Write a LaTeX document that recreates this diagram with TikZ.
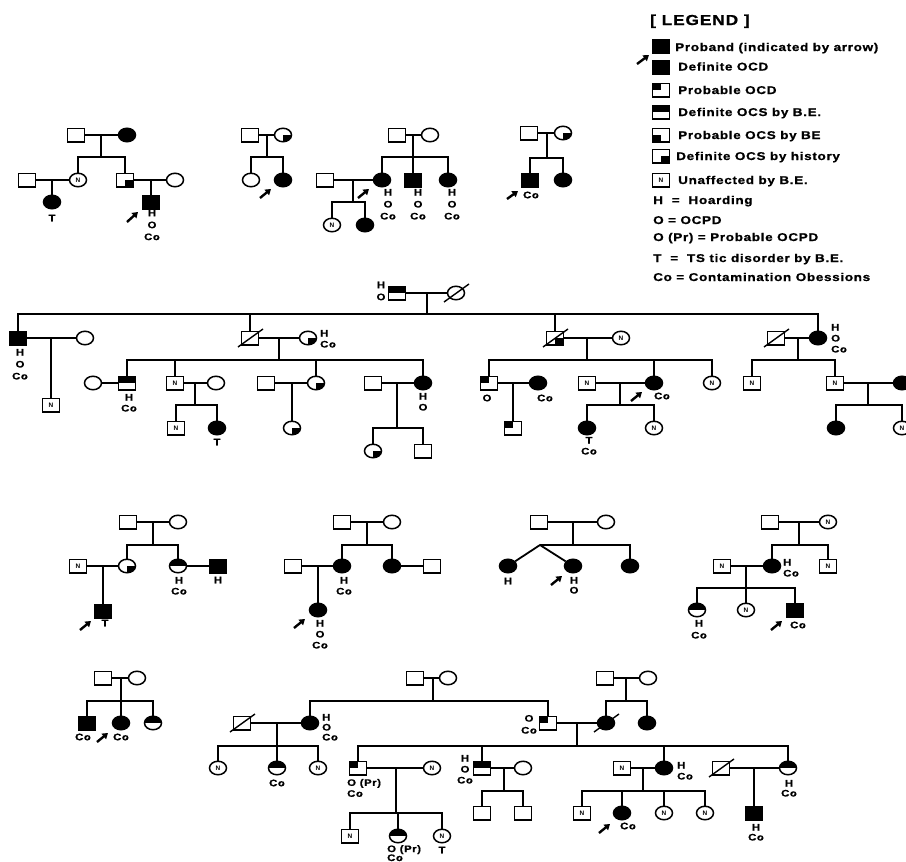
\documentclass[tikz,border=0pt]{standalone}
\usepackage{fontspec}
\usetikzlibrary{shapes.geometric,arrows.meta}
\newfontfamily\lf[FakeStretch=1.2,LetterSpace=6,BoldFeatures={FakeBold=0.8}]{Liberation Sans}
\newfontfamily\nf{Liberation Sans}
\newcommand\deceased[1]{\draw[deadl] ([shift={(-12,9)}]#1.center) -- ([shift={(13,-9)}]#1.center);}
\begin{document}
\begin{tikzpicture}[x=1bp,y=-1bp,
  sym/.style={draw=black, line width=1.5bp, inner sep=0pt, minimum width=17bp, minimum height=13.5bp, font=\nf\bfseries\fontsize{6.5}{6.5}\selectfont},
  sq/.style={sym, rectangle},
  ci/.style={sym, ellipse},
  aff/.style={fill=black},
  tophalf/.style={path picture={\fill[black] (path picture bounding box.west) rectangle (path picture bounding box.north east);}},
  lrq/.style={path picture={\fill[black] (path picture bounding box.center) rectangle (path picture bounding box.south east);}},
  ulq/.style={path picture={\fill[black] (path picture bounding box.center) rectangle (path picture bounding box.north west);}},
  llq/.style={path picture={\fill[black] (path picture bounding box.center) rectangle (path picture bounding box.south west);}},
  ln/.style={line width=1.8bp},
  sibl/.style={line width=1.3bp},
  deadl/.style={line width=1.4bp},
  lab/.style={font=\lf\bfseries\fontsize{9.5}{11}\selectfont, inner sep=0pt, align=center},
  labw/.style={font=\lf\bfseries\fontsize{9.5}{12}\selectfont, inner sep=0pt, align=center},
  labn/.style={font=\lf\bfseries\fontsize{9.5}{10}\selectfont, inner sep=0pt, align=center},
  leg/.style={font=\lf\bfseries\fontsize{11.3}{11.3}\selectfont, inner sep=0pt, anchor=base west},
  pa/.style={line width=2.4bp, -{Triangle[length=5.5bp,width=7bp]}}
]
\useasboundingbox (0,0) rectangle (906,862);
\fill[white] (0,0) rectangle (906,862);

%% ---------------- Family T1 ----------------
\node[sq] (t1f) at (76,135) {};
\node[ci,aff] (t1m) at (127,135) {};
\draw[ln] (t1f) -- (t1m);
\coordinate (t1d) at (101,135); \coordinate (t1s) at (101,157);
\draw[ln] (t1d) -- (t1s);
\node[ci] (t1a) at (78,180) {N};
\node[sq,lrq] (t1b) at (125,180) {};
\draw[ln] (t1a) |- (t1s) -| (t1b);
\node[sq] (t1as) at (27,180) {};
\draw[ln] (t1as) -- (t1a);
\node[ci,aff] (t1ac) at (52,202) {};
\draw[ln] (t1ac |- t1a) -- (t1ac);
\node[lab] (t1acl) at (52,218) {T};
\node[ci] (t1bs) at (175,180) {};
\draw[ln] (t1b) -- (t1bs);
\node[sq,aff] (t1bc) at (151,202) {};
\draw[ln] (t1bc |- t1b) -- (t1bc);
\node[labw,anchor=north] (t1bcl) at (152,209.5) {H\\O\\Co};
\coordinate (t1ar) at (127,222); \coordinate (t1ah) at (138,212);
\draw[pa] (t1ar) -- (t1ah);

%% ---------------- Family T2 ----------------
\node[sq] (t2f) at (250,135) {};
\node[ci,lrq] (t2m) at (283,135) {};
\draw[ln] (t2f) -- (t2m);
\coordinate (t2d) at (267,135); \coordinate (t2s) at (267,157);
\draw[ln] (t2d) -- (t2s);
\node[ci] (t2a) at (251,180) {};
\node[ci,aff] (t2b) at (283,180) {};
\draw[ln] (t2a) |- (t2s) -| (t2b);
\coordinate (t2ar) at (260,198); \coordinate (t2ah) at (271,189);
\draw[pa] (t2ar) -- (t2ah);

%% ---------------- Family T3 ----------------
\node[sq] (t3f) at (397,135) {};
\node[ci] (t3m) at (430,135) {};
\draw[ln] (t3f) -- (t3m);
\coordinate (t3d) at (413,135); \coordinate (t3s) at (413,157);
\node[ci,aff] (t3a) at (382,180) {};
\node[sq,aff] (t3b) at (413,180) {};
\node[ci,aff] (t3c) at (448,180) {};
\draw[ln] (t3d) -- (t3b);
\draw[ln] (t3a) |- (t3s) -| (t3c);
\node[labw,anchor=north] (t3al) at (388,188.8) {H\\O\\Co};
\node[labw,anchor=north] (t3bl) at (418,188.8) {H\\O\\Co};
\node[labw,anchor=north] (t3cl) at (452,188.8) {H\\O\\Co};
\node[sq] (t3as) at (325,180) {};
\draw[ln] (t3as) -- (t3a);
\coordinate (t3ad) at (353,180); \coordinate (t3ss) at (353,202);
\draw[ln] (t3ad) -- (t3ss);
\node[ci] (t3a1) at (332,225) {N};
\node[ci,aff] (t3a2) at (365,225) {};
\draw[ln] (t3a1) |- (t3ss) -| (t3a2);
\coordinate (t3ar) at (358,198); \coordinate (t3ah) at (369,189);
\draw[pa] (t3ar) -- (t3ah);

%% ---------------- Family T4 ----------------
\node[sq] (t4f) at (529,133) {};
\node[ci,lrq] (t4m) at (563,133) {};
\draw[ln] (t4f) -- (t4m);
\coordinate (t4d) at (547,133); \coordinate (t4s) at (547,158);
\draw[ln] (t4d) -- (t4s);
\node[sq,aff] (t4a) at (530,180) {};
\node[ci,aff] (t4b) at (563,180) {};
\draw[ln] (t4a) |- (t4s) -| (t4b);
\coordinate (t4ar) at (507,199); \coordinate (t4ah) at (518,191);
\draw[pa] (t4ar) -- (t4ah);
\node[lab] (t4al) at (531,195) {Co};

%% ---------------- Legend ----------------
\node[font=\lf\bfseries\fontsize{14.5}{14.5}\selectfont, inner sep=0pt, anchor=base west] (lgt) at (650,25) {[ LEGEND ]};
\node[sq,aff] (g1) at (661,46) {};
\node[leg] (g1t) at (675,51) {Proband (indicated by arrow)};
\node[sq,aff] (g2) at (661,67) {};
\coordinate (g2ar) at (637,64); \coordinate (g2ah) at (649,55);
\draw[pa] (g2ar) -- (g2ah);
\node[leg] (g2t) at (678,70.5) {Definite OCD};
\node[sq,ulq] (g3) at (661,90) {};
\node[leg] (g3t) at (678,94) {Probable OCD};
\node[sq,tophalf] (g4) at (661,112) {};
\node[leg] (g4t) at (678,116) {Definite OCS by B.E.};
\node[sq,llq] (g5) at (661,135) {};
\node[leg] (g5t) at (678,139) {Probable OCS by BE};
\node[sq,lrq] (g6) at (661,156) {};
\node[leg] (g6t) at (676,160) {Definite OCS by history};
\node[sq] (g7) at (661,180) {N};
\node[leg] (g7t) at (678,184) {Unaffected by B.E.};
\node[leg] (g8t) at (653,204) {H~~=~~Hoarding};
\node[leg] (g9t) at (653,224) {O = OCPD};
\node[leg] (g10t) at (653,241) {O (Pr) = Probable OCPD};
\node[leg] (g11t) at (653,262) {T~~=~~TS tic disorder by B.E.};
\node[leg] (g12t) at (653,281) {Co = Contamination Obessions};

%% ---------------- Big family ----------------
\node[sq,tophalf] (bf) at (397,293) {};
\node[labw] (bfl) at (381,291) {H\\O};
\node[ci] (bm) at (456,293) {};
\deceased{bm}
\draw[ln] (bf) -- (bm);
\coordinate (bd) at (427,293); \coordinate (bs) at (427,314);
\draw[ln] (bd) -- (bs);
\node[sq,aff] (b1) at (18,338) {};
\node[sq] (b2) at (250,338) {};
\node[sq,lrq] (b3) at (555,338) {};
\node[ci,aff] (b4) at (818,338) {};
\deceased{b2}
\deceased{b3}
\draw[sibl] (b1) |- (bs) -| (b4);
\draw[ln] (b2) -- (b2 |- bs);
\draw[ln] (b3) -- (b3 |- bs);
% b1
\node[labw,anchor=north] (b1l) at (20,348.8) {H\\O\\Co};
\node[ci] (b1s) at (85,338) {};
\draw[ln] (b1) -- (b1s);
\node[sq] (b1c) at (51,405) {N};
\draw[ln] (b1c |- b1) -- (b1c);
% b2
\node[ci,lrq] (b2s) at (308,338) {};
\draw[ln] (b2) -- (b2s);
\node[lab,anchor=north west,align=left] (b2l) at (320,329.8) {H\\Co};
\coordinate (b2d) at (279,338); \coordinate (b2b) at (279,360);
\draw[ln] (b2d) -- (b2b);
\node[sq,tophalf] (c1) at (127,383) {};
\node[sq] (c2) at (175,383) {N};
\node[ci,lrq] (c3) at (316,383) {};
\node[ci,aff] (c4) at (423,383) {};
\draw[sibl] (c1) |- (b2b) -| (c4);
\draw[ln] (c2) -- (c2 |- b2b);
\draw[ln] (c3) -- (c3 |- b2b);
\node[ci] (c1s) at (93,383) {};
\draw[ln] (c1s) -- (c1);
\node[lab,anchor=north] (c1l) at (129,393.8) {H\\Co};
\node[ci] (c2s) at (216,383) {};
\draw[ln] (c2) -- (c2s);
\coordinate (c2d) at (195,383); \coordinate (c2b) at (195,405);
\draw[ln] (c2d) -- (c2b);
\node[sq] (c2a) at (176,428) {N};
\node[ci,aff] (c2c) at (217,428) {};
\draw[ln] (c2a) |- (c2b) -| (c2c);
\node[lab] (c2cl) at (217,442) {T};
\node[sq] (c3s) at (266,383) {};
\draw[ln] (c3s) -- (c3);
\node[ci,lrq] (c3a) at (292,428) {};
\draw[ln] (c3a |- c3) -- (c3a);
\node[sq] (c4s) at (373,383) {};
\draw[ln] (c4s) -- (c4);
\node[lab,anchor=north] (c4l) at (423,392.8) {H\\O};
\coordinate (c4d) at (397,383); \coordinate (c4b) at (397,428);
\draw[ln] (c4d) -- (c4b);
\node[ci,lrq] (c4a) at (373,451) {};
\node[sq] (c4c) at (423,451) {};
\draw[ln] (c4a) |- (c4b) -| (c4c);
% b3
\node[ci] (b3s) at (621,338) {N};
\draw[ln] (b3) -- (b3s);
\coordinate (b3d) at (587,338); \coordinate (b3b) at (587,360);
\draw[ln] (b3d) -- (b3b);
\node[sq,ulq] (d1) at (489,383) {};
\node[ci,aff] (d2) at (654,383) {};
\node[ci] (d3) at (712,383) {N};
\draw[sibl] (d1) |- (b3b) -| (d3);
\draw[ln] (d2) -- (d2 |- b3b);
\node[lab] (d1l) at (487,398) {O};
\node[ci,aff] (d1s) at (538,383) {};
\draw[ln] (d1) -- (d1s);
\node[lab] (d1sl) at (545,398) {Co};
\node[sq,ulq] (d1a) at (513,428) {};
\draw[ln] (d1a |- d1) -- (d1a);
\node[sq] (d2s) at (587,383) {N};
\draw[ln] (d2s) -- (d2);
\coordinate (d2ar) at (631,401); \coordinate (d2ah) at (642,392);
\draw[pa] (d2ar) -- (d2ah);
\node[lab] (d2l) at (662,396) {Co};
\coordinate (d2d) at (620,383); \coordinate (d2b) at (620,405);
\draw[ln] (d2d) -- (d2b);
\node[ci,aff] (d2a) at (587,428) {};
\node[ci] (d2c) at (654,428) {N};
\draw[ln] (d2a) |- (d2b) -| (d2c);
\node[lab,anchor=north] (d2al) at (589,436.8) {T\\Co};
% b4
\node[sq] (b4s) at (776,338) {};
\deceased{b4s}
\draw[ln] (b4s) -- (b4);
\node[lab,anchor=north west,align=left] (b4l) at (831,323.8) {H\\O\\Co};
\coordinate (b4d) at (798,338); \coordinate (b4b) at (798,360);
\draw[ln] (b4d) -- (b4b);
\node[sq] (e1) at (752,383) {N};
\node[sq] (e2) at (835,383) {N};
\draw[sibl] (e1) |- (b4b) -| (e2);
\node[ci,aff] (e2s) at (902,383) {};
\draw[ln] (e2) -- (e2s);
\coordinate (e2d) at (868,383); \coordinate (e2b) at (868,405);
\draw[ln] (e2d) -- (e2b);
\node[ci,aff] (e2a) at (836,428) {};
\node[ci] (e2c) at (902,428) {N};
\draw[ln] (e2a) |- (e2b) -| (e2c);

%% ---------------- Row 3, family A ----------------
\node[sq] (r1f) at (128,522) {};
\node[ci] (r1m) at (178,522) {};
\draw[ln] (r1f) -- (r1m);
\coordinate (r1d) at (153,522); \coordinate (r1s) at (153,545);
\draw[ln] (r1d) -- (r1s);
\node[ci,lrq] (r1a) at (127,566) {};
\node[ci,tophalf] (r1b) at (178,566) {};
\draw[ln] (r1a) |- (r1s) -| (r1b);
\node[sq] (r1as) at (78,566) {N};
\draw[ln] (r1as) -- (r1a);
\node[sq,aff] (r1ac) at (103,611) {};
\draw[ln] (r1ac |- r1a) -- (r1ac);
\coordinate (r1ar) at (80,630); \coordinate (r1ah) at (91,621);
\draw[pa] (r1ar) -- (r1ah);
\node[lab] (r1acl) at (105,623) {T};
\node[sq,aff] (r1bs) at (218,566) {};
\draw[ln] (r1b) -- (r1bs);
\node[lab] (r1bsl) at (218,580) {H};
\node[lab,anchor=north] (r1bl) at (179,576.8) {H\\Co};

%% ---------------- Row 3, family B ----------------
\node[sq] (r2f) at (342,522) {};
\node[ci] (r2m) at (392,522) {};
\draw[ln] (r2f) -- (r2m);
\coordinate (r2d) at (367,522); \coordinate (r2s) at (367,545);
\draw[ln] (r2d) -- (r2s);
\node[ci,aff] (r2a) at (342,566) {};
\node[ci,aff] (r2b) at (392,566) {};
\draw[ln] (r2a) |- (r2s) -| (r2b);
\node[lab,anchor=north] (r2al) at (344,576.8) {H\\Co};
\node[sq] (r2as) at (293,566) {};
\draw[ln] (r2as) -- (r2a);
\node[ci,aff] (r2ac) at (318,610) {};
\draw[ln] (r2ac |- r2a) -- (r2ac);
\coordinate (r2ar) at (294,628); \coordinate (r2ah) at (305,619);
\draw[pa] (r2ar) -- (r2ah);
\node[lab,anchor=north] (r2acl) at (320,619.8) {H\\O\\Co};
\node[sq] (r2bs) at (432,566) {};
\draw[ln] (r2b) -- (r2bs);

%% ---------------- Row 3, family C ----------------
\node[sq] (r3f) at (539,522) {};
\node[ci] (r3m) at (606,522) {};
\draw[ln] (r3f) -- (r3m);
\coordinate (r3d) at (573,522); \coordinate (r3s) at (573,545);
\draw[ln] (r3d) -- (r3s);
\node[ci,aff] (r3a) at (508,566) {};
\node[ci,aff] (r3b) at (573,566) {};
\node[ci,aff] (r3c) at (630,566) {};
\coordinate (r3t) at (540,545);
\draw[ln] (r3a) -- (r3t) -- (r3b);
\draw[ln] (r3t) -| (r3c);
\node[lab] (r3al) at (508,581) {H};
\coordinate (r3ar) at (551,585); \coordinate (r3ah) at (562,576);
\draw[pa] (r3ar) -- (r3ah);
\node[labn,anchor=north] (r3bl) at (574,576.8) {H\\O};

%% ---------------- Row 3, family D ----------------
\node[sq] (r4f) at (770,522) {};
\node[ci] (r4m) at (828,522) {N};
\draw[ln] (r4f) -- (r4m);
\coordinate (r4d) at (799,522); \coordinate (r4s) at (799,545);
\draw[ln] (r4d) -- (r4s);
\node[ci,aff] (r4a) at (772,566) {};
\node[sq] (r4b) at (828,566) {N};
\draw[ln] (r4a) |- (r4s) -| (r4b);
\node[lab,anchor=north west,align=left] (r4al) at (783,558.8) {H\\Co};
\node[sq] (r4as) at (722,566) {N};
\draw[ln] (r4as) -- (r4a);
\coordinate (r4ad) at (746,566); \coordinate (r4ab) at (746,588);
\node[ci,tophalf] (r4k1) at (697,610) {};
\node[ci] (r4k2) at (746,610) {N};
\node[sq,aff] (r4k3) at (795,610) {};
\draw[ln] (r4ad) -- (r4k2);
\draw[ln] (r4k1) |- (r4ab) -| (r4k3);
\node[labw,anchor=north] (r4k1l) at (699,619.8) {H\\Co};
\coordinate (r4ar) at (771,630); \coordinate (r4ah) at (782,621);
\draw[pa] (r4ar) -- (r4ah);
\node[lab] (r4k3l) at (798,625) {Co};

%% ---------------- Row 4, family A ----------------
\node[sq] (q1f) at (103,678) {};
\node[ci] (q1m) at (137,678) {};
\draw[ln] (q1f) -- (q1m);
\coordinate (q1d) at (121,678); \coordinate (q1s) at (121,701);
\node[sq,aff] (q1a) at (87,723) {};
\node[ci,aff] (q1b) at (121,723) {};
\node[ci,tophalf] (q1c) at (153,723) {};
\draw[ln] (q1d) -- (q1b);
\draw[ln] (q1a) |- (q1s) -| (q1c);
\node[lab] (q1al) at (83,737) {Co};
\coordinate (q1ar) at (97,742); \coordinate (q1ah) at (108,733);
\draw[pa] (q1ar) -- (q1ah);
\node[lab] (q1bl) at (121,737) {Co};

%% ---------------- Row 4, family B ----------------
\node[sq] (q2f) at (415,678) {};
\node[ci] (q2m) at (448,678) {};
\draw[ln] (q2f) -- (q2m);
\coordinate (q2d) at (433,678); \coordinate (q2s) at (433,701);
\draw[ln] (q2d) -- (q2s);
\node[ci,aff] (h1) at (310,723) {};
\node[sq,ulq] (h2) at (548,723) {};
\draw[ln] (h1) |- (q2s) -| (h2);
\node[labn,anchor=north west,align=left] (h1l) at (322,713.8) {H\\O\\Co};
\node[sq] (h1s) at (242,723) {};
\deceased{h1s}
\draw[ln] (h1s) -- (h1);
\coordinate (h1d) at (277,723); \coordinate (h1b) at (277,746);
\node[ci] (h1k1) at (218,768) {N};
\node[ci,tophalf] (h1k2) at (277,768) {};
\node[ci] (h1k3) at (318,768) {N};
\draw[ln] (h1d) -- (h1k2);
\draw[ln] (h1k1) |- (h1b) -| (h1k3);
\node[lab] (h1k2l) at (277,783) {Co};
\node[labw,anchor=north] (h2l) at (529,714.8) {O\\Co};

%% ---------------- Row 4, family C ----------------
\node[sq] (q3f) at (605,678) {};
\node[ci] (q3m) at (648,678) {};
\draw[ln] (q3f) -- (q3m);
\coordinate (q3d) at (626,678); \coordinate (q3s) at (626,701);
\draw[ln] (q3d) -- (q3s);
\node[ci,aff] (h3) at (606,723) {};
\node[ci,aff] (h4) at (647,723) {};
\deceased{h3}
\draw[ln] (h3) |- (q3s) -| (h4);
\draw[ln] (h2) -- (h3);
\coordinate (hd) at (577,723); \coordinate (hb) at (577,746);
\draw[ln] (hd) -- (hb);
\node[sq,ulq] (k1) at (358,768) {};
\node[sq,tophalf] (k2) at (482,768) {};
\node[ci,aff] (k3) at (664,768) {};
\node[ci,tophalf] (k4) at (788,768) {};
\draw[sibl] (k1) |- (hb) -| (k4);
\draw[ln] (k2) -- (k2 |- hb);
\draw[ln] (k3) -- (k3 |- hb);
% k1
\node[lab,anchor=north west,align=left] (k1l) at (347,778.8) {O (Pr)\\Co};
\node[ci] (k1s) at (432,768) {N};
\draw[ln] (k1) -- (k1s);
\coordinate (k1d) at (396,768); \coordinate (k1b) at (396,813);
\node[sq] (k1a) at (350,836) {N};
\node[ci,tophalf] (k1c) at (398,836) {};
\node[ci] (k1e) at (442,836) {N};
\draw[ln] (k1d) -- (k1b);
\draw[ln] (k1a) |- (k1b) -| (k1e);
\draw[ln] (k1c) -- (k1c |- k1b);
\node[font=\lf\bfseries\fontsize{9.5}{9}\selectfont, inner sep=0pt, align=left, anchor=north west] (k1cl) at (387,845) {O (Pr)\\Co};
\node[lab] (k1el) at (442,850) {T};
% k2
\node[lab,anchor=north] (k2l) at (465,754.8) {H\\O\\Co};
\node[ci] (k2s) at (523,768) {};
\draw[ln] (k2) -- (k2s);
\coordinate (k2d) at (504,768); \coordinate (k2b) at (504,791);
\draw[ln] (k2d) -- (k2b);
\node[sq] (k2a) at (482,813) {};
\node[sq] (k2c) at (523,813) {};
\draw[ln] (k2a) |- (k2b) -| (k2c);
% k3
\node[sq] (k3s) at (622,768) {N};
\draw[ln] (k3s) -- (k3);
\node[lab,anchor=north west,align=left] (k3l) at (677,761.8) {H\\Co};
\coordinate (k3d) at (643,768); \coordinate (k3b) at (643,791);
\draw[ln] (k3d) -- (k3b);
\node[sq] (k3a) at (582,813) {N};
\node[ci,aff] (k3c) at (622,813) {};
\node[ci] (k3e) at (664,813) {N};
\node[ci] (k3g) at (705,813) {N};
\draw[ln] (k3a) |- (k3b) -| (k3g);
\draw[ln] (k3c) -- (k3c |- k3b);
\draw[ln] (k3e) -- (k3e |- k3b);
\coordinate (k3ar) at (599,833); \coordinate (k3ah) at (610,824);
\draw[pa] (k3ar) -- (k3ah);
\node[lab] (k3cl) at (628,826) {Co};
% k4
\node[sq] (k4s) at (721,768) {};
\deceased{k4s}
\draw[ln] (k4s) -- (k4);
\node[labn,anchor=north] (k4l) at (789,779.8) {H\\Co};
\node[sq,aff] (k4a) at (754,813) {};
\draw[ln] (k4a |- k4) -- (k4a);
\node[labn,anchor=north] (k4al) at (756,823.8) {H\\Co};
\end{tikzpicture}
\end{document}
